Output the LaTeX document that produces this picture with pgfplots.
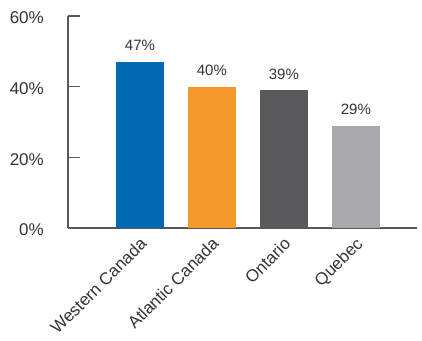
\documentclass[border=0pt]{standalone}
\usepackage{pgfplots}
\pgfplotsset{compat=1.18}
\usepackage{fontspec}
\setmainfont{Liberation Sans}
\definecolor{cblue}{HTML}{006AB5}
\definecolor{corange}{HTML}{F4982A}
\definecolor{cdark}{HTML}{58595B}
\definecolor{clight}{HTML}{A7A9AC}
\definecolor{caxis}{HTML}{58595B}
\definecolor{ctext}{HTML}{333333}
\begin{document}
\begin{tikzpicture}
\useasboundingbox (-68pt,-112pt) rectangle (354pt,228pt);
\begin{axis}[
  at={(0pt,0pt)}, anchor=south west, scale only axis,
  width=349pt, height=212pt,
  xmin=-1, xmax=3.85, ymin=0, ymax=60,
  axis x line*=bottom, axis y line*=left,
  axis line style={caxis, line width=1.2pt},
  /pgf/number format/assume math mode=true,
  ytick={0,20,40,60},
  yticklabel={\pgfmathprintnumber{\tick}\%},
  tick align=inside, major tick length=12pt,
  ytick style={caxis, line width=1.2pt},
  yticklabel style={font=\fontsize{17}{17}\selectfont, text=ctext, anchor=east, inner sep=0pt, xshift=-24pt, yshift=-2pt},
  xtick={0,1,2,3},
  xticklabels={Western Canada, Atlantic Canada, Ontario, Quebec},
  xtick style={draw=none},
  xticklabel style={font=\fontsize{17}{17}\selectfont, text=ctext, inner sep=0pt, xshift=-1pt, yshift=4pt, rotate=45, anchor=north east},
  ybar, bar width=48pt, bar shift=0pt,
  nodes near coords={\pgfmathprintnumber{\pgfplotspointmeta}\%},
  every node near coord/.append style={font=\fontsize{15}{15}\selectfont, text=ctext, anchor=base, inner sep=0pt, yshift=11pt},
  clip=false,
]
\addplot[draw=none, fill=cblue] coordinates {(0,47)};
\addplot[draw=none, fill=corange] coordinates {(1,40)};
\addplot[draw=none, fill=cdark] coordinates {(2,39)};
\addplot[draw=none, fill=clight] coordinates {(3,29)};
\end{axis}
\end{tikzpicture}
\end{document}
